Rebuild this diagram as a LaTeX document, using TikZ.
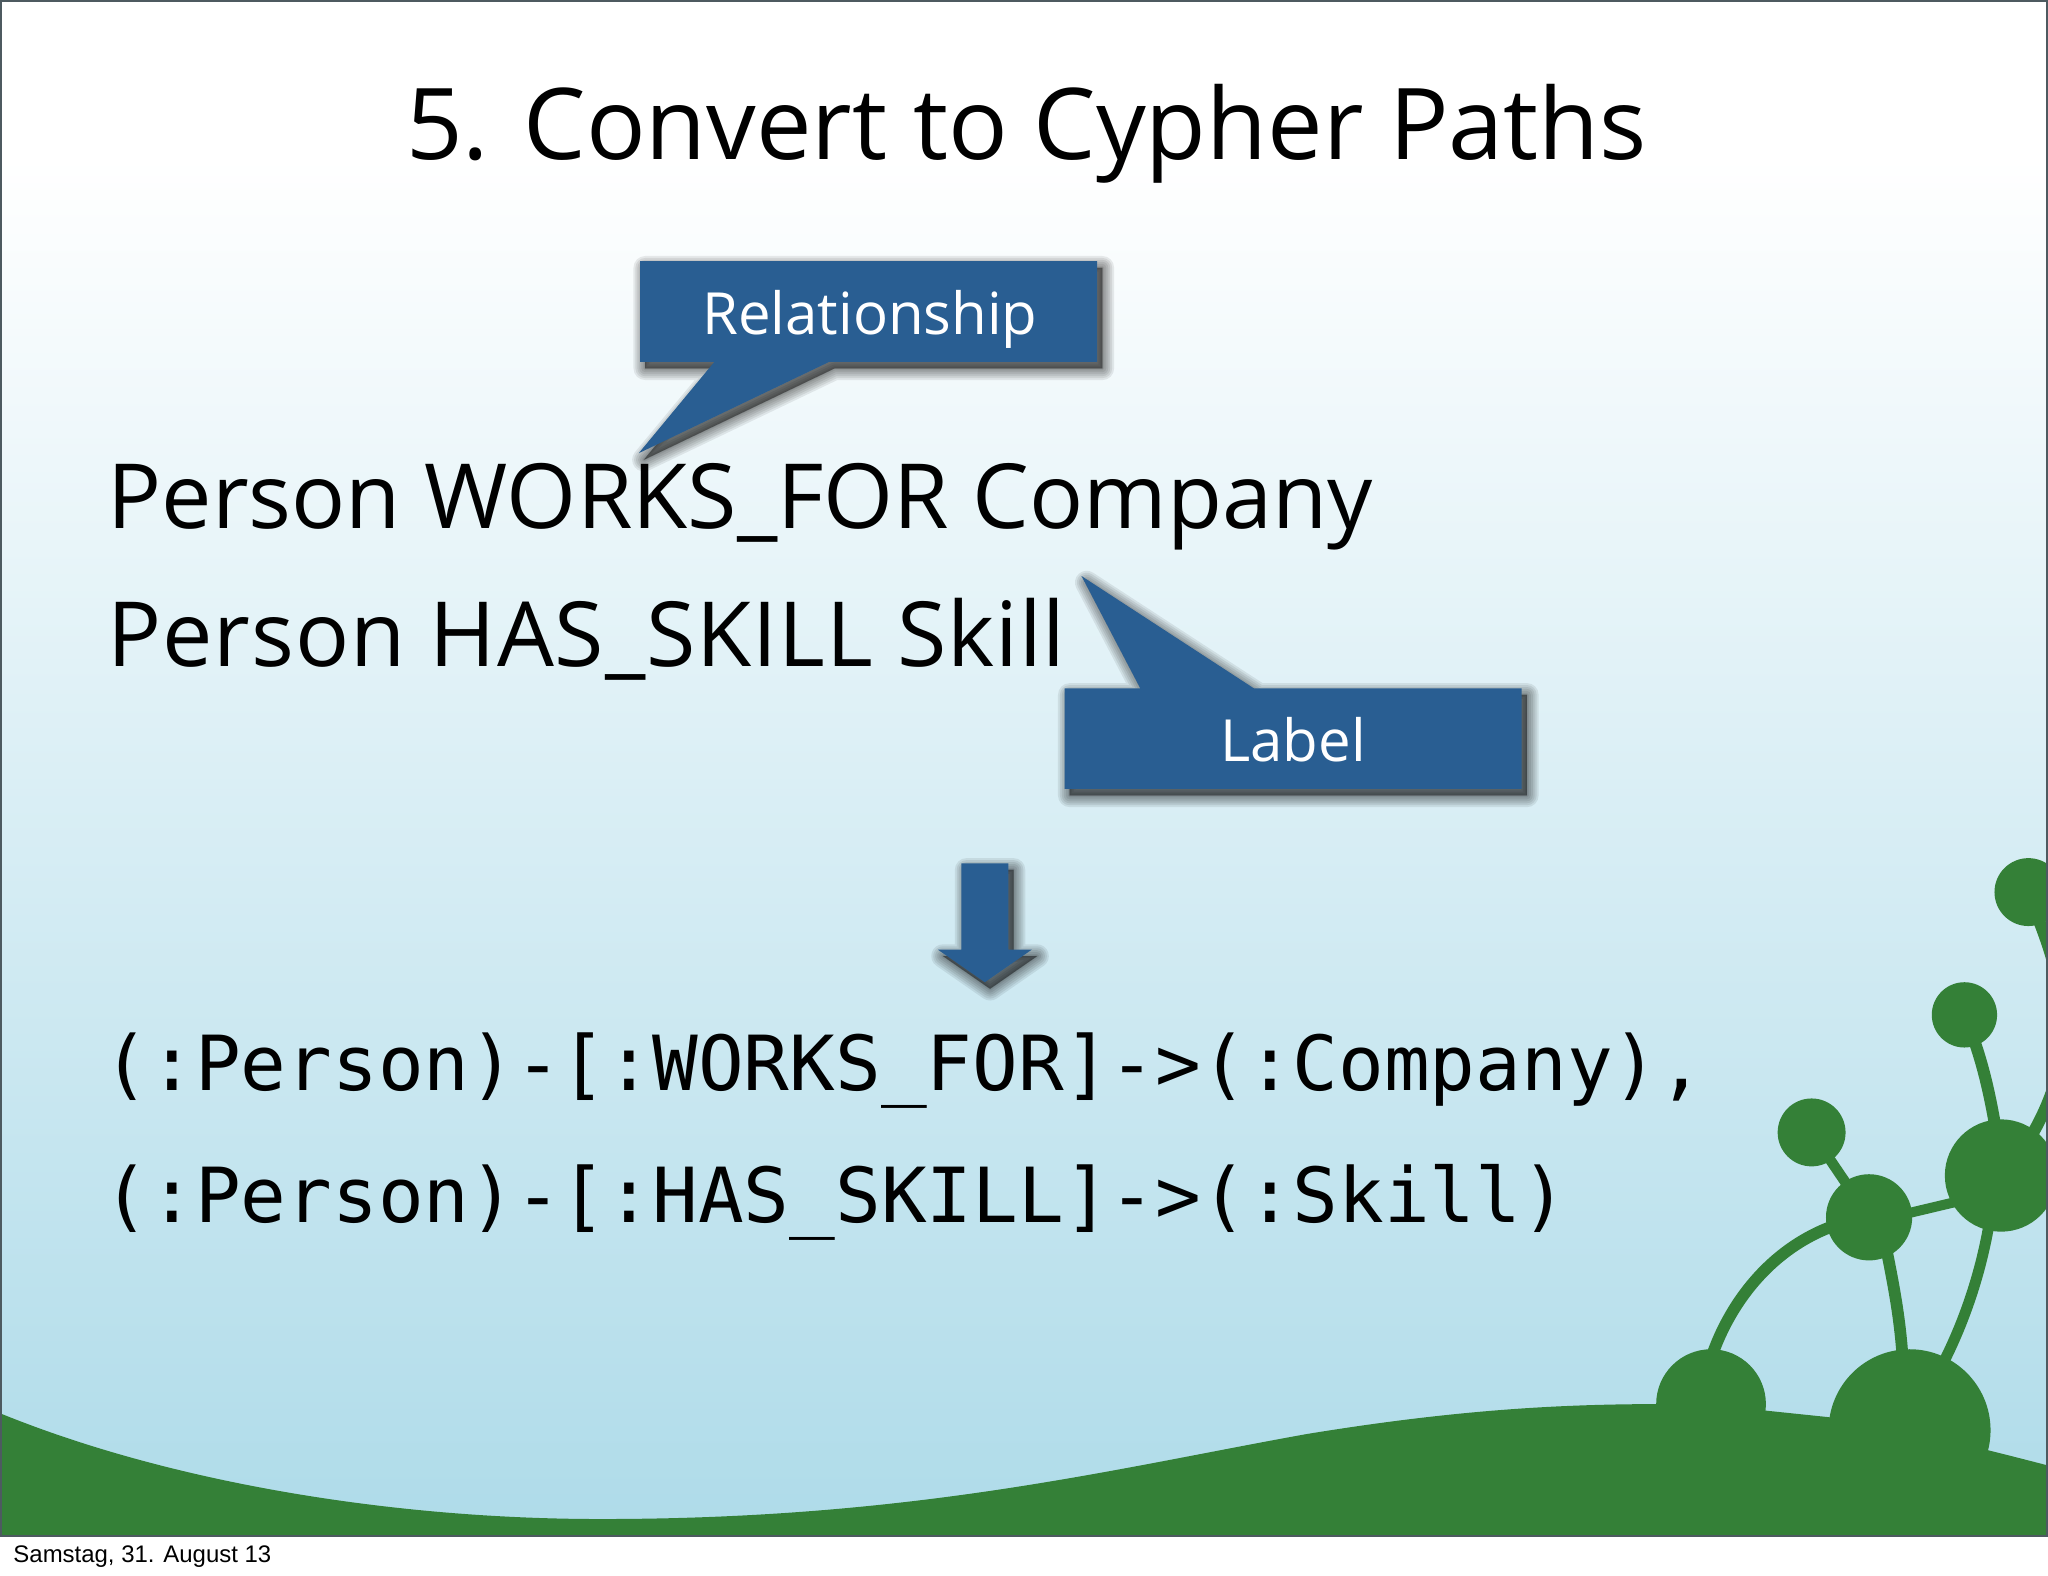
\documentclass[tikz,border=0pt]{standalone}
\usepackage{fontspec}
\setmainfont{Open Sans}
\newfontfamily\monofam{DejaVu Sans Mono}
\newfontfamily\footfam{Liberation Sans}
\definecolor{grn}{RGB}{52,128,55}
\definecolor{blu}{RGB}{41,94,146}
\definecolor{skymid}{RGB}{212,234,242}
\definecolor{skylow}{RGB}{174,219,233}
\definecolor{edge}{RGB}{77,90,96}
\tikzset{
  title/.style={anchor=base,inner sep=0pt,font=\fontsize{45.5}{45.5}\selectfont},
  body/.style={anchor=base west,inner sep=0pt,font=\fontsize{41.3}{41.3}\selectfont},
  code/.style={anchor=base west,inner sep=0pt,font=\monofam\fontsize{34.9}{34.9}\selectfont},
  clabel/.style={anchor=base,inner sep=0pt,text=white,font=\fontsize{26.7}{26.7}\selectfont},
  blob/.style={fill=grn},
  stem/.style={draw=grn,line cap=round},
  bluefill/.style={fill=blu}
}
\newcommand{\softshadow}[1]{%
  \foreach \w in {18,15,12,9,6,3,1}{%
    \path[fill=black,draw=black,opacity=0.08,line width=\w*0.6pt,line join=round,shift={(4,5)}] #1;}%
}
\begin{document}
\begin{tikzpicture}[x=0.6pt,y=-0.6pt]
\useasboundingbox (0,0) rectangle (1568,1206.6);
\fill[white] (0,0) rectangle (1568,1206.6);
% sky
\fill[white] (0,0) rectangle (1568,120);
\shade[top color=white,middle color=skymid,bottom color=skylow] (0,120) rectangle (1568,1176);
% hill and plant
\begin{scope}
\clip (0,0) rectangle (1567,1176);
\fill[grn] (0,1082) .. controls (130,1135) and (300,1163) .. (460,1163)
  .. controls (700,1163) and (850,1125) .. (1000,1098)
  .. controls (1110,1080) and (1190,1075) .. (1270,1075)
  -- (1352,1080) -- (1400,1085) .. controls (1450,1092) and (1510,1107) .. (1568,1122)
  -- (1568,1176) -- (0,1176) -- cycle;
\fill[blob] (1310,1075) circle (42);
\fill[blob] (1462,1095) circle (62);
\draw[stem,line width=5.4pt] (1310,1040) .. controls (1325,995) and (1360,950) .. (1415,935);
\draw[stem,line width=5.4pt] (1443,950) .. controls (1450,985) and (1455,1010) .. (1457,1045);
\draw[stem,line width=5pt] (1524,930) .. controls (1518,970) and (1505,1010) .. (1487,1045);
\draw[stem,line width=4.8pt] (1387,867) -- (1431,932);
\draw[stem,line width=4.6pt] (1431,936) -- (1532,912);
\draw[stem,line width=5.5pt] (1504,777) .. controls (1520,815) and (1526,850) .. (1532,890);
\draw[stem,line width=5.5pt] (1555,690) .. controls (1585,760) and (1590,810) .. (1555,870);
\fill[blob] (1553,683) circle (26);
\fill[blob] (1504,777) circle (25);
\fill[blob] (1532,900) circle (43);
\fill[blob] (1387,867) circle (26);
\fill[blob] (1431,932) circle (33);
\end{scope}
% frame
\draw[edge,line width=1.2pt] (0.5,0.5) rectangle (1567.5,1176);
% callout Relationship
\softshadow{(490,200) -- (840,200) -- (840,277) -- (635,277) -- (489,347) -- (547,277) -- (490,277) -- cycle}
\fill[bluefill] (490,200) -- (840,200) -- (840,277) -- (635,277) -- (489,347) -- (547,277) -- (490,277) -- cycle;
\node[clabel] (rel) at (666,256) {Relationship};
% callout Label
\softshadow{(815,527) -- (873,527) -- (828,441) -- (960,527) -- (1165,527) -- (1165,604) -- (815,604) -- cycle}
\fill[bluefill] (815,527) -- (873,527) -- (828,441) -- (960,527) -- (1165,527) -- (1165,604) -- (815,604) -- cycle;
\node[clabel] (lab) at (990,583) {Label};
% arrow
\softshadow{(736,661) -- (772,661) -- (772,727) -- (790,727) -- (754,752) -- (718,727) -- (736,727) -- cycle}
\fill[bluefill] (736,661) -- (772,661) -- (772,727) -- (790,727) -- (754,752) -- (718,727) -- (736,727) -- cycle;
% texts
\node[title] (ttl) at (786,122) {5. Convert to Cypher Paths};
\node[body] (l1) at (82,405) {Person WORKS\_FOR Company};
\node[body] (l2) at (82,510) {\addfontfeature{LetterSpace=1}Person HAS\_SKILL Skill};
\node[code] (c1) at (79,835) {(:Person)-[:WORKS\_FOR]->(:Company),};
\node[code] (c2) at (79,936) {(:Person)-[:HAS\_SKILL]->(:Skill)};
\node[anchor=base west,inner sep=0pt,font=\footfam\fontsize{11}{11}\selectfont] (dt) at (10,1196) {Samstag, 31. August 13};
\end{tikzpicture}
\end{document}
